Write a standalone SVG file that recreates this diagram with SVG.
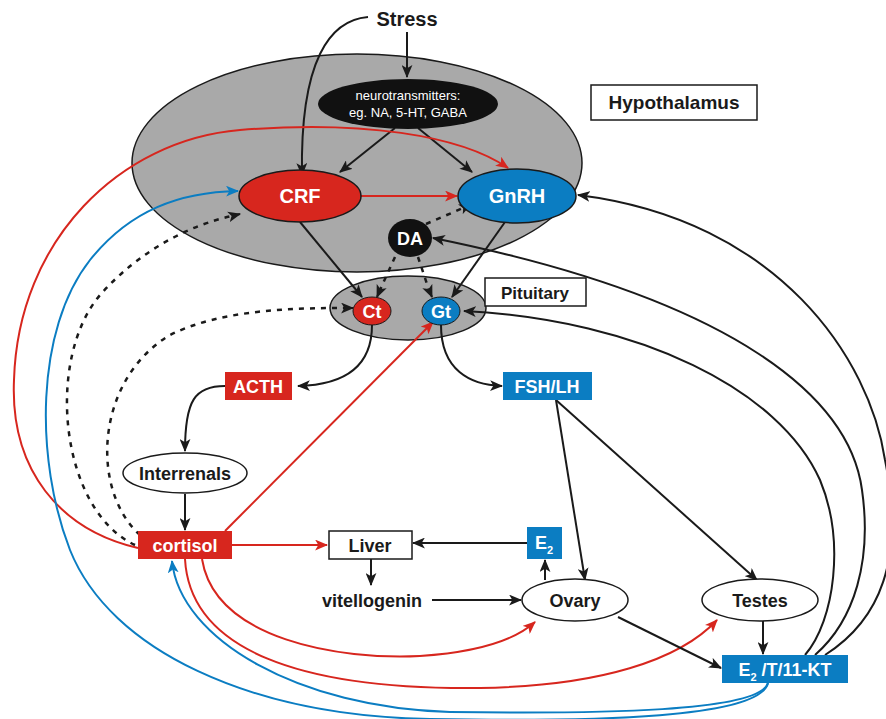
<svg xmlns="http://www.w3.org/2000/svg" width="886" height="719" viewBox="0 0 886 719">
<defs>
<style>
text{font-family:"Liberation Sans",Arial,sans-serif;font-weight:bold;text-anchor:middle}
.k{fill:none;stroke:#1a1a1a;stroke-width:2}
.r{fill:none;stroke:#d7261e;stroke-width:2}
.b{fill:none;stroke:#0b7dc2;stroke-width:2}
.d{fill:none;stroke:#1a1a1a;stroke-width:2.5;stroke-dasharray:5 6}
.wt{fill:#fff}
.bt{fill:#1a1a1a}
.lbl{fill:#fff;stroke:#1a1a1a;stroke-width:1.5}
</style>
<marker id="ak" viewBox="0 0 12 10" refX="11" refY="5" markerWidth="13" markerHeight="11" markerUnits="userSpaceOnUse" orient="auto"><path d="M0,0 L12,5 L0,10 L3,5 z" fill="#1a1a1a"/></marker>
<marker id="ar" viewBox="0 0 12 10" refX="11" refY="5" markerWidth="13" markerHeight="11" markerUnits="userSpaceOnUse" orient="auto"><path d="M0,0 L12,5 L0,10 L3,5 z" fill="#d7261e"/></marker>
<marker id="ab" viewBox="0 0 12 10" refX="11" refY="5" markerWidth="13" markerHeight="11" markerUnits="userSpaceOnUse" orient="auto"><path d="M0,0 L12,5 L0,10 L3,5 z" fill="#0b7dc2"/></marker>
</defs>
<rect width="886" height="719" fill="#fff"/>
<g id="pituitary-region"><ellipse cx="408" cy="308" rx="78" ry="32" fill="#a9a9a9" stroke="#1a1a1a" stroke-width="1.5"/></g>
<g id="hypothalamus-region"><ellipse cx="357" cy="163" rx="225" ry="109" fill="#a9a9a9" stroke="#1a1a1a" stroke-width="1.5"/></g>
<g id="connectors">
<path class="k" d="M407,32 L407,77" marker-end="url(#ak)"/>
<path class="k" d="M368,17 C330,20 300,60 302,175" marker-end="url(#ak)"/>
<path class="k" d="M395,128 L340,172" marker-end="url(#ak)"/>
<path class="k" d="M418,128 L472,172" marker-end="url(#ak)"/>
<path class="r" d="M361,196 L457,196" marker-end="url(#ar)"/>
<path class="r" d="M138,548 C60,530 10,470 14,380 C18,240 120,140 240,130 C360,120 460,135 508,168" marker-end="url(#ar)"/>
<path class="b" d="M768,683 C760,718 600,722 430,719 C250,716 110,650 70,550 C35,460 35,330 90,260 C130,210 180,192 238,191" marker-end="url(#ab)"/>
<path class="b" d="M768,683 C760,712 600,714 450,712 C300,708 180,640 172,561" marker-end="url(#ab)"/>
<path class="r" d="M202,559 C215,640 340,660 420,656 C480,652 515,640 535,622" marker-end="url(#ar)"/>
<path class="r" d="M185,559 C190,650 300,690 480,688 C600,686 680,660 717,620" marker-end="url(#ar)"/>
<path class="r" d="M225,531 L433,322" marker-end="url(#ar)"/>
<path class="r" d="M232,545 L327,545" marker-end="url(#ar)"/>
<path class="d" d="M135,545 C60,510 45,360 100,295 C140,250 190,225 232,216"/>
<path class="k" d="M232,216 L240,214" marker-end="url(#ak)"/>
<path class="d" d="M140,535 C90,490 95,380 170,335 C220,310 290,308 344,308"/>
<path class="k" d="M344,308 L353,308" marker-end="url(#ak)"/>
<path class="k" d="M300,222 L362,297" marker-end="url(#ak)"/>
<path class="k" d="M505,222 L452,297" marker-end="url(#ak)"/>
<path class="d" d="M395,257 L380,290"/>
<path class="k" d="M380,290 L377,297" marker-end="url(#ak)"/>
<path class="d" d="M418,257 L429,290"/>
<path class="k" d="M429,290 L432,297" marker-end="url(#ak)"/>
<path class="d" d="M426,224 L463,208"/>
<path class="k" d="M463,208 L471,204" marker-end="url(#ak)"/>
<path class="k" d="M372,325 C372,370 340,385 298,386" marker-end="url(#ak)"/>
<path class="k" d="M441,325 C441,370 470,385 502,386" marker-end="url(#ak)"/>
<path class="k" d="M225,386 C195,386 185,400 185,451" marker-end="url(#ak)"/>
<path class="k" d="M185,494 L185,530" marker-end="url(#ak)"/>
<path class="k" d="M527,543 L413,543" marker-end="url(#ak)"/>
<path class="k" d="M371,559 L371,585" marker-end="url(#ak)"/>
<path class="k" d="M432,600 L521,600" marker-end="url(#ak)"/>
<path class="k" d="M545,580 L545,560" marker-end="url(#ak)"/>
<path class="k" d="M556,400 L585,580" marker-end="url(#ak)"/>
<path class="k" d="M556,400 L757,580" marker-end="url(#ak)"/>
<path class="k" d="M763,620 L763,654" marker-end="url(#ak)"/>
<path class="k" d="M618,617 L721,668" marker-end="url(#ak)"/>
<path class="k" d="M805,655 C835,620 845,540 820,480 C780,390 640,320 464,311" marker-end="url(#ak)"/>
<path class="k" d="M815,655 C855,620 872,560 862,490 C850,400 740,300 433,238" marker-end="url(#ak)"/>
<path class="k" d="M825,655 C880,620 905,560 885,460 C870,360 780,220 578,195" marker-end="url(#ak)"/>
</g>
<g id="stress"><text x="407" y="26" font-size="20" class="bt">Stress</text></g>
<g id="neurotransmitters"><ellipse cx="408" cy="104" rx="90" ry="25" fill="#111"/><text x="408" y="100" font-size="13" class="wt" style="font-weight:normal">neurotransmitters:</text><text x="408" y="117" font-size="13" class="wt" style="font-weight:normal">eg. NA, 5-HT, GABA</text></g>
<g id="hypothalamus-label"><rect x="591" y="85" width="166" height="35" class="lbl"/><text x="674" y="109" font-size="19" class="bt">Hypothalamus</text></g>
<g id="crf"><ellipse cx="300" cy="196" rx="61" ry="26" fill="#d7261e" stroke="#1a1a1a" stroke-width="1.5"/><text x="300" y="203" font-size="20" class="wt">CRF</text></g>
<g id="gnrh"><ellipse cx="517" cy="196" rx="59" ry="27" fill="#0b7dc2" stroke="#1a1a1a" stroke-width="1.5"/><text x="517" y="203" font-size="20" class="wt">GnRH</text></g>
<g id="da"><ellipse cx="410" cy="238" rx="22" ry="19" fill="#111"/><text x="410" y="245" font-size="18" class="wt">DA</text></g>
<g id="ct"><ellipse cx="372" cy="311" rx="19" ry="14" fill="#d7261e" stroke="#1a1a1a" stroke-width="1"/><text x="372" y="318" font-size="18" class="wt">Ct</text></g>
<g id="gt"><ellipse cx="441" cy="311" rx="19" ry="14" fill="#0b7dc2" stroke="#1a1a1a" stroke-width="1"/><text x="441" y="318" font-size="18" class="wt">Gt</text></g>
<g id="pituitary-label"><rect x="485" y="278" width="101" height="28" class="lbl"/><text x="535" y="299" font-size="17" class="bt">Pituitary</text></g>
<g id="acth"><rect x="225" y="372" width="67" height="28" fill="#d7261e"/><text x="258" y="393" font-size="18" class="wt">ACTH</text></g>
<g id="fshlh"><rect x="503" y="372" width="89" height="28" fill="#0b7dc2"/><text x="547" y="393" font-size="18" class="wt">FSH/LH</text></g>
<g id="interrenals"><ellipse cx="185" cy="473" rx="62" ry="20" fill="#fff" stroke="#1a1a1a" stroke-width="1.5"/><text x="185" y="480" font-size="18" class="bt">Interrenals</text></g>
<g id="cortisol"><rect x="138" y="531" width="94" height="28" fill="#d7261e"/><text x="185" y="552" font-size="18" class="wt">cortisol</text></g>
<g id="liver"><rect x="329" y="531" width="83" height="28" class="lbl"/><text x="370" y="552" font-size="18" class="bt">Liver</text></g>
<g id="e2"><rect x="527" y="527" width="35" height="32" fill="#0b7dc2"/><text x="544" y="549" font-size="18" class="wt">E<tspan font-size="11" dy="5">2</tspan></text></g>
<g id="vitellogenin"><text x="372" y="607" font-size="18" class="bt">vitellogenin</text></g>
<g id="ovary"><ellipse cx="575" cy="600" rx="53" ry="21" fill="#fff" stroke="#1a1a1a" stroke-width="1.5"/><text x="575" y="607" font-size="18" class="bt">Ovary</text></g>
<g id="testes"><ellipse cx="760" cy="600" rx="58" ry="21" fill="#fff" stroke="#1a1a1a" stroke-width="1.5"/><text x="760" y="607" font-size="18" class="bt">Testes</text></g>
<g id="e2t11kt"><rect x="722" y="655" width="126" height="28" fill="#0b7dc2"/><text x="785" y="676" font-size="18" class="wt">E<tspan font-size="11" dy="5">2</tspan><tspan dy="-5"> /T/11-KT</tspan></text></g>
</svg>
